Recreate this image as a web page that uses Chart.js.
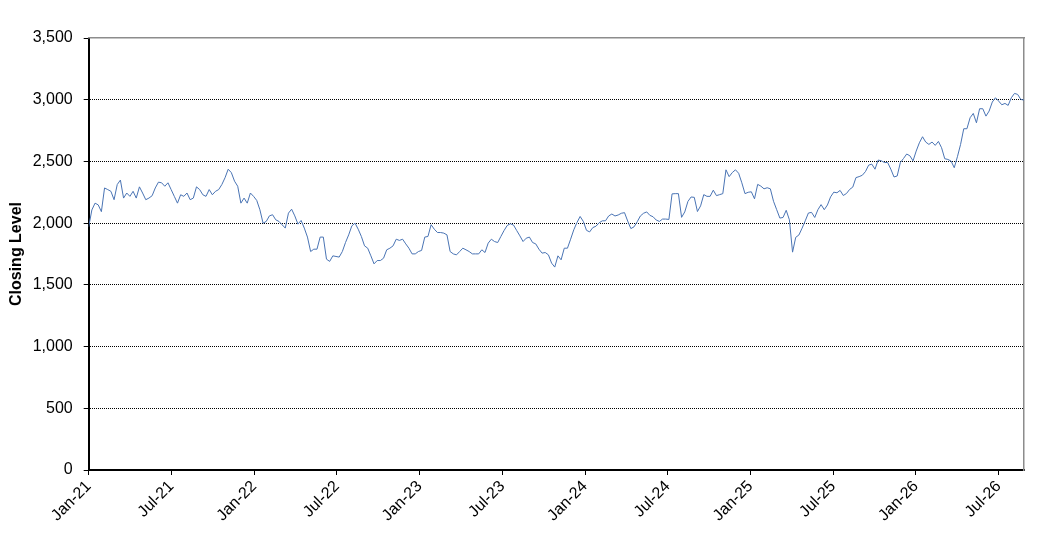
<!DOCTYPE html>
<html><head><meta charset="utf-8">
<script src="https://cdn.jsdelivr.net/npm/chart.js@4.4.0/dist/chart.umd.min.js"></script>
<style>html,body{margin:0;padding:0;background:#fff;}canvas{display:block;}</style>
</head><body>
<canvas id="c" width="1049" height="541" style="width:1049px;height:541px"></canvas>
<script>
const tickLabels = ['Jan-21','Jul-21','Jan-22','Jul-22','Jan-23','Jul-23','Jan-24','Jul-24','Jan-25','Jul-25','Jan-26','Jul-26'];

const close2021 = [
 1970, 2107, 2162, 2148, 2093, 2285, 2272, 2258, 2190, 2313,
 2349, 2203, 2244, 2217, 2258, 2203, 2294, 2244, 2190, 2203,
 2222, 2285, 2332, 2327, 2299, 2327, 2272, 2217, 2162, 2230,
 2217, 2244, 2190, 2203, 2294, 2272, 2230, 2217, 2272, 2230,
 2258, 2272, 2313, 2368, 2437, 2409, 2340, 2299, 2162, 2203,
 2162, 2244, 2217
];
const close2022 = [
 2184, 2108, 2000, 2014, 2059, 2068, 2027, 2014, 1987, 1960,
 2081, 2113, 2059, 1992, 2022, 1960, 1887, 1770, 1789, 1789,
 1887, 1887, 1708, 1690, 1735, 1730, 1725, 1770, 1843, 1905,
 1978, 2000, 1951, 1892, 1816, 1797, 1735, 1670, 1697, 1697,
 1716, 1784, 1797, 1816, 1870, 1860, 1870, 1832, 1797, 1751,
 1751, 1770
];
const close2023 = [
 1779, 1887, 1892, 1987, 1951, 1924, 1924, 1919, 1905, 1770,
 1751, 1743, 1770, 1797, 1784, 1770, 1751, 1751, 1751, 1784,
 1762, 1838, 1870, 1851, 1843, 1892, 1940, 1981, 1995, 1984,
 1940, 1897, 1851, 1878, 1887, 1843, 1832, 1789, 1757, 1762,
 1743, 1676, 1644, 1735, 1703, 1797, 1797, 1870, 1946, 2005,
 2054, 2014
];
const close2024 = [
 1942, 1929, 1964, 1975, 2003, 2019, 2019, 2058, 2074, 2058,
 2066, 2080, 2085, 2017, 1956, 1970, 2011, 2058, 2080, 2091,
 2063, 2052, 2025, 2014, 2033, 2033, 2030, 2237, 2239, 2239,
 2047, 2091, 2176, 2212, 2209, 2094, 2140, 2231, 2217, 2217,
 2267, 2223, 2231, 2239, 2432, 2377, 2410, 2432, 2404, 2327,
 2239, 2250
];
const close2025 = [
 2254, 2197, 2314, 2300, 2278, 2287, 2278, 2177, 2109, 2041,
 2046, 2104, 2027, 1765, 1885, 1904, 1959, 2019, 2082, 2087,
 2046, 2109, 2150, 2109, 2147, 2213, 2251, 2246, 2265, 2224,
 2240, 2273, 2292, 2369, 2377, 2388, 2418, 2470, 2478, 2437,
 2511, 2505, 2491, 2491, 2437, 2374, 2382, 2491, 2524, 2560,
 2546, 2505
];
const close2026 = [
 2584, 2651, 2700, 2657, 2638, 2657, 2630, 2662, 2611, 2522,
 2516, 2503, 2449, 2538, 2638, 2765, 2765, 2854, 2889, 2813,
 2927, 2927, 2867, 2908, 2981, 3016, 2989, 2959, 2970, 2954,
 3016, 3051, 3043, 3002, 2997
];

const weeklyClose = [].concat(close2021, close2022, close2023, close2024, close2025, close2026);
const daysPerWeek = 7, daysPerMonth = 30.44, monthsPerTick = 6;
const points = weeklyClose.map((v, i) => ({ x: i * daysPerWeek / daysPerMonth, y: v }));
const xMax = points[points.length - 1].x;

Chart.defaults.font.family = '"Liberation Sans", Arial, sans-serif';
Chart.defaults.font.size = 16;
Chart.defaults.color = '#000';

new Chart(document.getElementById('c'), {
  type: 'line',
  data: { datasets: [{ data: points, borderColor: '#4a74b4', borderWidth: 1, pointRadius: 0, tension: 0, fill: false }] },
  options: {
    responsive: false, animation: false, devicePixelRatio: 1,
    layout: { padding: { top: 38, right: 25, left: 0, bottom: 0 } },
    plugins: { legend: { display: false }, tooltip: { enabled: false } },
    scales: {
      x: {
        type: 'linear', min: 0, max: xMax,
        afterBuildTicks: s => { s.ticks = tickLabels.map((_, i) => ({ value: i * monthsPerTick })); },
        afterFit: s => { s.height = 71; },
        ticks: { autoSkip: false, maxRotation: 45, minRotation: 45, padding: 2,
                 callback: v => tickLabels[Math.round(v / monthsPerTick)] },
        grid: { display: true, drawOnChartArea: false, drawTicks: true, tickLength: 5, color: '#000', tickColor: '#000' },
        border: { display: true, color: '#000', width: 2 }
      },
      y: {
        min: 0, max: 3500,
        afterFit: s => { s.width = 88.7; },
        ticks: { stepSize: 500, padding: 11, callback: v => v.toLocaleString('en-US') },
        grid: {
          color: c => (c.tick && (c.tick.value === 0 || c.tick.value === 3500)) ? 'rgba(0,0,0,0)' : '#000',
          tickColor: '#000', tickLength: 5, lineWidth: 1
        },
        border: { display: true, color: '#000', width: 2, dash: [1, 1] },
        title: { display: true, text: 'Closing Level', font: { weight: 'bold', size: 16 }, padding: { top: 7, bottom: 0 } }
      },
      x2: {
        type: 'linear', position: 'top', min: 0, max: xMax,
        ticks: { display: false },
        grid: { display: true, drawOnChartArea: false, drawTicks: false },
        border: { display: true, color: '#8c8c8c', width: 1.5 },
        afterFit: s => { s.height = 0; }
      },
      y2: {
        position: 'right', min: 0, max: 3500,
        ticks: { display: false },
        grid: { display: true, drawOnChartArea: false, drawTicks: false },
        border: { display: true, color: '#8c8c8c', width: 1.5 },
        afterFit: s => { s.width = 0; }
      }
    }
  }
});
</script>
</body></html>
